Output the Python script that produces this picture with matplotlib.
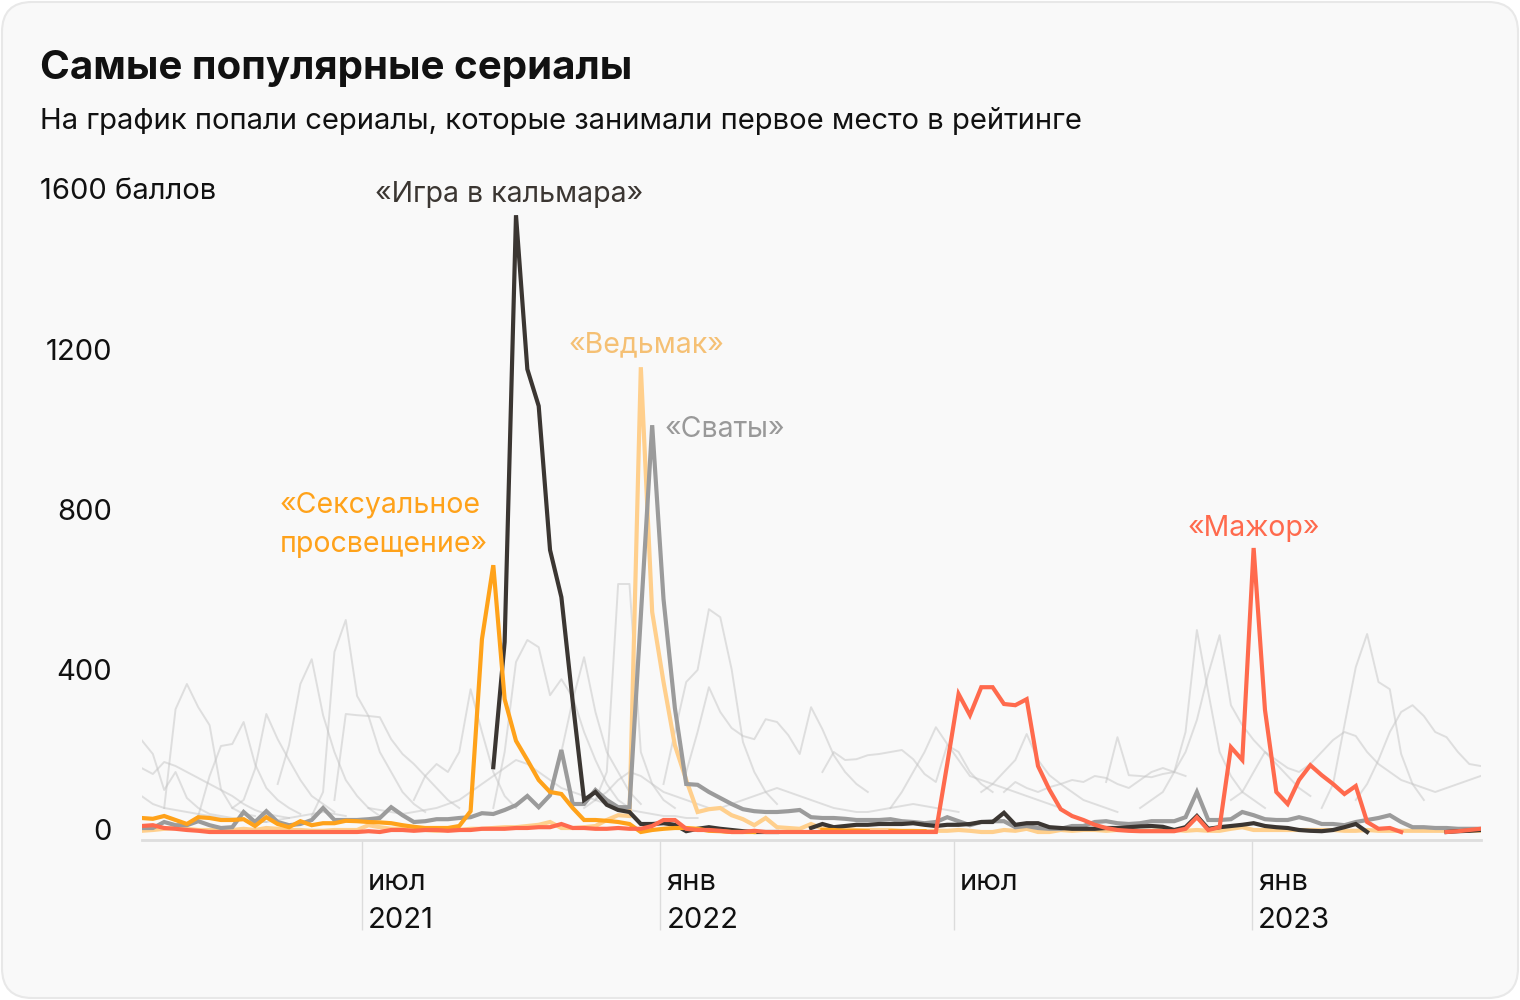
import numpy as np
import pandas as pd
import matplotlib
matplotlib.use("Agg")
import matplotlib.pyplot as plt
from matplotlib.patches import FancyBboxPatch
from matplotlib import transforms

plt.rcParams['font.family'] = ['Inter', 'DejaVu Sans']

# недели: с 15 февраля 2021 по май 2023
weeks = pd.date_range('2021-02-15', periods=119, freq='7D')

# выделенные сериалы (баллы по неделям, None - нет в рейтинге)
squid_start = 31
squid = [162, 475, 1542, 1157, 1065, 705, 587, 325, 80, 100,
         68, 55, 50, 20, 20, 22, 18, 2, 8, 12,
         8, 5, 2, 0, 0, 0, None, None, 10, 20,
         12, 15, 18, 18, 20, 20, 20, 22, 18, 15,
         18, 18, 20, 25, 25, 48, 18, 22, 22, 12,
         10, 8, 8, 8, 10, 10, 12, 14, 15, 13,
         5, 12, 40, 8, 12, 15, 18, 22, 15, 12,
         10, 5, 3, 2, 5, 12, 20, 0, None, None,
         None, None, None, None, 0, 2, 3, 5]

sex_education = [35, 33, 40, 30, 20, 37, 35, 30, 30, 32,
                 15, 37, 20, 12, 27, 17, 22, 22, 28, 27,
                 25, 24, 22, 17, 13, 10, 10, 10, 15, 52,
                 482, 667, 332, 228, 180, 130, 100, 95, 60, 30,
                 30, 28, 25, 20, 0, 5, 8, 10, 10, 8,
                 3, 2, 0, 0, 0, None, None, None, None, None,
                 5, 5, 3, 3, 2, None, 2, 2, 2, 2]

witcher = [3, 5, 8, 10, 8, 5, 5, 5, 5, 8,
           5, 10, 8, 5, 5, 3, 3, 5, 5, 5,
           17, 12, 8, 8, 5, 5, 3, 5, 5, 8,
           8, 10, 12, 12, 15, 18, 25, 10, 10, 12,
           15, 30, 42, 40, 1162, 550, 375, 217, 130, 50,
           57, 60, 42, 32, 17, 35, 12, 10, 8, 20,
           8, 10, 8, 5, 5, 5, 5, 3, 3, 2,
           3, 3, 5, 3, 0, 0, 5, 3, 8, 0,
           0, 5, 3, 5, 5, 3, 5, 5, 3, 3,
           5, 5, 3, 5, 3, 3, 8, 12, 5, 5,
           5, 5, 5, 5, 5, 5, 3, 3, 5, 3,
           3, 3, 3, 3, 3, 3, 3, 3, 3]

svaty = [10, 10, 25, 17, 17, 27, 17, 10, 12, 50,
         25, 52, 25, 17, 20, 30, 60, 30, 30, 30,
         32, 35, 62, 42, 25, 27, 32, 32, 35, 37,
         47, 45, 55, 67, 90, 62, 92, 205, 70, 70,
         105, 80, 62, 62, 540, 1017, 582, 310, 120, 118,
         100, 85, 70, 57, 52, 50, 50, 52, 55, 37,
         35, 35, 33, 30, 30, 30, 32, 27, 25, 22,
         25, 37, 27, 17, 25, 27, 27, 12, 15, 10,
         8, 8, 15, 15, 25, 27, 22, 20, 22, 27,
         27, 27, 37, 100, 30, 30, 32, 50, 42, 32,
         30, 30, 37, 30, 20, 20, 17, 25, 30, 35,
         42, 25, 12, 12, 10, 10, 8, 8, 8]

major = [15, 17, 10, 8, 5, 3, 0, 0, 0, 0,
         0, 0, 0, 0, 0, 0, 0, 0, 0, 0,
         2, 0, 5, 5, 3, 5, 5, 3, 5, 5,
         8, 8, 8, 10, 10, 12, 12, 20, 10, 10,
         8, 8, 10, 8, 8, 15, 30, 30, 8, 5,
         5, 3, 0, 0, 3, 0, 0, 0, 0, 0,
         0, 0, 0, 0, 0, 0, 0, 0, 0, 0,
         0, 170, 345, 292, 362, 362, 320, 317, 332, 165,
         106, 57, 40, 30, 18, 10, 5, 3, 2, 2,
         2, 2, 8, 37, 5, 12, 212, 180, 710, 305,
         100, 70, 130, 167, 142, 120, 95, 115, 25, 8,
         10, 0, None, None, None, 0, 2, 5, 8]

# остальные сериалы из рейтинга (серый фон): (первая неделя, значения)
bg01 = (0, [230, 195, 105, 150, 85, 60, 45, 40, 35, 30, 28, 25])
bg02 = (0, [160, 145, 175, 165, 150, 135, 120, 105, 90, 70, 55, 45, 40, 35])
bg03 = (0, [90, 70, 60, 55, 50, 45, 40, 35, 30, 30, 25, 25, 30, 35, 40, 45, 50, 45, 40])
bg04 = (2, [60, 307, 370, 312, 267, 107, 60, 45, 40])
bg05 = (5, [40, 140, 215, 220, 275, 170, 110, 80, 60, 45])
bg06 = (8, [60, 80, 157, 295, 232, 180, 130, 90, 70, 50])
bg07 = (12, [120, 217, 370, 432, 292, 200, 130, 90, 60, 40])
bg08 = (15, [40, 100, 450, 530, 340, 290, 200, 150, 100, 70, 50])
bg09 = (17, [80, 295, 292, 290, 287, 232, 195, 170, 140, 110, 80, 60])
bg10 = (24, [80, 140, 170, 150, 200, 357, 250, 150, 90, 60])
bg11 = (31, [60, 200, 425, 480, 462, 342, 382, 337, 250, 180, 120, 80, 60])
bg12 = (36, [100, 200, 330, 437, 300, 200, 150, 100, 70])
bg13 = (39, [60, 80, 150, 620, 620, 200, 120, 80, 60])
bg14 = (46, [120, 250, 375, 405, 557, 537, 407, 225, 150, 100, 70])
bg15 = (48, [150, 250, 362, 300, 260, 240, 232, 282, 275, 242, 195, 312, 257, 192, 150, 120, 100])
bg16 = (60, [150, 200, 180, 182, 192, 195, 200, 205, 182, 145, 125, 217, 200, 150, 120, 100])
bg17 = (66, [60, 100, 150, 200, 262, 220, 180, 140, 130, 120, 110, 100, 90, 80, 70, 60])
bg18 = (74, [100, 120, 150, 180, 245, 180, 142, 120, 100, 80, 70, 60, 50])
bg19 = (85, [125, 237, 142, 140, 137, 145, 150, 250, 505, 350, 200, 140, 100, 80, 60])
bg20 = (88, [60, 80, 100, 150, 200, 280, 395, 492, 317, 267, 230, 200, 170, 140, 110, 90])
bg21 = (104, [60, 120, 267, 412, 495, 375, 357, 195, 120, 80])
bg22 = (107, [80, 120, 180, 250, 300, 317, 290, 250, 237, 200, 170, 165])
bg23 = (76, [100, 125, 110, 100, 112, 120, 130, 125, 140, 135, 120, 110, 130, 150, 160, 150, 140])
bg24 = (96, [80, 100, 150, 200, 180, 160, 150, 170, 200, 230, 250, 240, 200, 170, 150,
             130, 120, 110, 100, 110, 120, 130, 140])
bg25 = (20, [60, 55, 50, 45, 50, 55, 60, 70, 80, 100, 120, 140, 160, 180, 170, 150, 130,
             110, 100, 90, 80, 70, 60, 55, 50, 45, 40, 40, 35, 35])
bg26 = (40, [80, 100, 130, 150, 140, 120, 100, 90, 80, 70, 60, 60, 70, 80, 90, 100, 110,
             100, 90, 80, 70, 60, 55, 50, 50, 55, 60, 65, 70, 65, 60, 55, 50])
background = [bg01, bg02, bg03, bg04, bg05, bg06, bg07, bg08, bg09, bg10, bg11, bg12, bg13,
              bg14, bg15, bg16, bg17, bg18, bg19, bg20, bg21, bg22, bg23, bg24, bg25, bg26]

tick_dates = pd.to_datetime(['2021-07-01', '2022-01-01', '2022-07-01', '2023-01-01'])
tick_labels = ['июл\n2021', 'янв\n2022', 'июл', 'янв\n2023']
y_ticks = [0, 400, 800, 1200]


def series(start, vals):
    out = np.full(len(weeks), np.nan)
    v = np.array([np.nan if x is None else x for x in vals], dtype=float)
    out[start:start + len(v)] = v
    return out


W, H = 1520, 1000
fig = plt.figure(figsize=(W / 100, H / 100), dpi=100)
fig.patch.set_facecolor('white')

# карточка со скруглёнными углами
card = FancyBboxPatch((2, 2), W - 4, H - 4, boxstyle='round,pad=0,rounding_size=30',
                      transform=transforms.IdentityTransform(),
                      facecolor='#f9f9f9', edgecolor='#e8e8e8', linewidth=1.5, zorder=-10)
fig.patches.append(card)


def fx(px):
    return px / W


def fy(py):
    return 1 - py / H


ax = fig.add_axes([fx(141.5), fy(840), fx(1480.6) - fx(141.5), (840 - 150) / H])
ax.set_facecolor('none')
ax.set_xlim(weeks[0], weeks[-1])
ax.set_ylim(-20, 1705)

for start, vals in background:
    ax.plot(weeks, series(start, vals), color='#c4c4c4', lw=1.4, alpha=0.5, zorder=2)

ax.plot(weeks, series(0, witcher), color='#ffcf8c', lw=3, zorder=3, solid_joinstyle='miter')
ax.plot(weeks, series(0, svaty), color='#9b9b9b', lw=3, zorder=4, solid_joinstyle='miter')
ax.plot(weeks, series(squid_start, squid), color='#3b3632', lw=3, zorder=5, solid_joinstyle='miter')
ax.plot(weeks, series(0, sex_education), color='#ffa21a', lw=3, zorder=6, solid_joinstyle='miter')
ax.plot(weeks, series(0, major), color='#ff6a4d', lw=3, zorder=7, solid_joinstyle='miter')

for s in ['top', 'right', 'left']:
    ax.spines[s].set_visible(False)
ax.spines['bottom'].set_color('#dedede')
ax.spines['bottom'].set_linewidth(2)
ax.set_xticks([])
ax.set_yticks([])

# вертикальные отметки месяцев и подписи
ax.vlines(tick_dates, -245, -20, color='#dcdcdc', lw=1, clip_on=False, zorder=1)
xf = transforms.blended_transform_factory(ax.transData, fig.transFigure)
off = transforms.offset_copy(xf, fig=fig, x=6, y=0, units='dots')
for d, lab in zip(tick_dates, tick_labels):
    parts = lab.split('\n')
    ax.text(d, fy(883), parts[0], transform=off, ha='left', va='center', fontsize=21, color='#111111')
    if len(parts) > 1:
        ax.text(d, fy(920), parts[1], transform=off, ha='left', va='center', fontsize=21, color='#111111')

# подписи оси Y
yf = transforms.blended_transform_factory(fig.transFigure, ax.transData)
for v in y_ticks:
    ax.text(fx(112), v, str(v), transform=yf, ha='right', va='center', fontsize=21, color='#111111')
fig.text(fx(40), fy(191), '1600 баллов', ha='left', va='center', fontsize=21, color='#111111')

# заголовки
fig.text(fx(40), fy(79), 'Самые популярные сериалы', ha='left', va='baseline',
         fontsize=29, fontweight='bold', color='#111111')
fig.text(fx(40), fy(129), 'На график попали сериалы, которые занимали первое место в рейтинге',
         ha='left', va='baseline', fontsize=21, color='#111111')

# названия сериалов
fig.text(fx(509), fy(194), '«Игра в кальмара»', ha='center', va='center', fontsize=20.5, color='#3b3632')
fig.text(fx(569), fy(345), '«Ведьмак»', ha='left', va='center', fontsize=20.5, color='#f5c074')
fig.text(fx(665), fy(430), '«Сваты»', ha='left', va='center', fontsize=20.5, color='#999999')
fig.text(fx(280), fy(505), '«Сексуальное', ha='left', va='center', fontsize=20.5, color='#ffa21a')
fig.text(fx(280), fy(545), 'просвещение»', ha='left', va='center', fontsize=20.5, color='#ffa21a')
fig.text(fx(1188), fy(528), '«Мажор»', ha='left', va='center', fontsize=20.5, color='#ff6a4d')

fig.savefig('out.png', dpi=100, facecolor=fig.get_facecolor())
